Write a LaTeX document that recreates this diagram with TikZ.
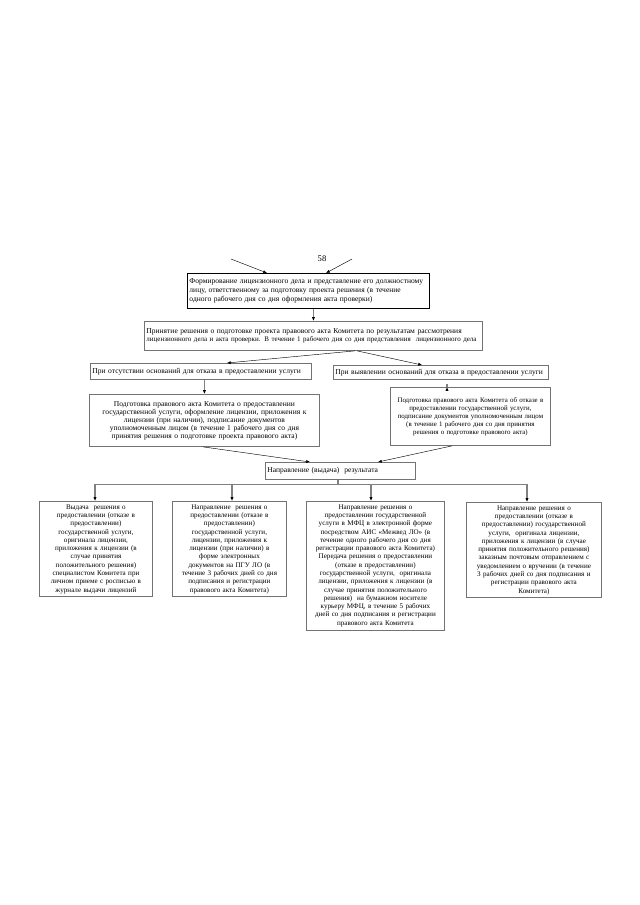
\documentclass[tikz,border=0pt]{standalone}
\usepackage{fontspec}
\setmainfont{Liberation Serif}
\usetikzlibrary{calc,arrows.meta}

\tikzset{
  blok/.style={draw=black!55, line width=0.8pt, anchor=north west, inner sep=1.5pt,
    font=\fontsize{7}{7.4}\selectfont},
  niz/.style={blok, inner ysep=3pt, font=\fontsize{6.6}{7.7}\selectfont},
  sz/.style 2 args={minimum width=#1*0.93pt, minimum height=#2*0.93pt,
    text width=#1*0.93pt-3.8pt},
  arr/.style={line width=0.4pt, -{Latex[length=3.5pt,width=2.8pt]}},
  garr/.style={draw=black!50, line width=1.1pt, -{Latex[length=3.5pt,width=3pt,color=black]}},
  gline/.style={draw=black!50, line width=1.1pt},
}

\begin{document}
\begin{tikzpicture}[x=0.93pt,y=-0.93pt]

	% page frame (A4)
	\useasboundingbox (0,0) rectangle (640,905);

	% page number and incoming arrows
	\node[font=\fontsize{8}{9}\selectfont] (pagenum) at (322,259) {58};
	\coordinate (in1) at (231,259);
	\coordinate (in2) at (352,259);

	% upper boxes
	\node[blok, sz={242}{35}, align=left, draw=black, font=\fontsize{7}{8.1}\selectfont] (form) at (187,273)
		{Формирование лицензионного дела и представление его должностному\\
		лицу, ответственному за подготовку проекта решения (в течение\\
		одного рабочего дня со дня оформления акта проверки)};
	\node[blok, sz={338}{29}, align=left] (decide) at (144,321)
		{Принятие решения о подготовке проекта правового акта Комитета по результатам рассмотрения\\
		{\fontsize{6.5}{7.4}\selectfont лицензионного дела и акта проверки. В течение 1 рабочего дня со дня представления~ лицензионного дела}};

	% two branches
	\node[blok, sz={221}{16}, align=left] (noRefuse) at (90,363)
		{При отсутствии оснований для отказа в предоставлении услуги};
	\node[blok, sz={215}{14}, align=left] (refuse) at (333,365)
		{При выявлении оснований для отказа в предоставлении услуги};
	\node[blok, sz={230}{52}, align=center] (actGrant) at (89,394)
		{Подготовка правового акта Комитета о предоставлении\\
		государственной услуги, оформление лицензии, приложения к\\
		лицензии (при наличии), подписание документов\\
		уполномоченным лицом (в течение 1 рабочего дня со дня\\
		принятия решения о подготовке проекта правового акта)};
	\node[blok, sz={160}{58}, align=center, font=\fontsize{6.4}{7.4}\selectfont] (actRefuse) at (390,387)
		{Подготовка правового акта Комитета об отказе в\\
		предоставлении государственной услуги,\\
		подписание документов уполномоченным лицом\\
		(в течение 1 рабочего дня со дня принятия\\
		решения о подготовке правового акта)};

	% result
	\node[blok, sz={150}{17}, align=left] (result) at (265,462)
		{Направление (выдача)~ результата};

	% ways of delivery
	\node[niz, sz={113}{10}, align=center] (issue) at (39,501)
		{Выдача~ решения о\\
		предоставлении (отказе в\\
		предоставлении)\\
		государственной услуги,\\
		оригинала лицензии,\\
		приложения к лицензии (в\\
		случае принятия\\
		положительного решения)\\
		специалистом Комитета при\\
		личном приеме с росписью в\\
		журнале выдачи лицензий};
	\node[niz, sz={114}{10}, align=center] (portal) at (172,501)
		{Направление~ решения о\\
		предоставлении (отказе в\\
		предоставлении)\\
		государственной услуги,\\
		лицензии, приложения к\\
		лицензии (при наличии) в\\
		форме электронных\\
		документов на ПГУ ЛО (в\\
		течение 3 рабочих дней со дня\\
		подписания и регистрации\\
		правового акта Комитета)};
	\node[niz, sz={138}{10}, align=center] (mfc) at (306,501)
		{Направление решения о\\
		предоставлении государственной\\
		услуги в МФЦ в электронной форме\\
		посредством АИС «Межвед ЛО» (в\\
		течение одного рабочего дня со дня\\
		регистрации правового акта Комитета)\\
		Передача решения о предоставлении\\
		(отказе в предоставлении)\\
		государственной услуги,~ оригинала\\
		лицензии, приложения к лицензии (в\\
		случае принятия положительного\\
		решения)~ на бумажном носителе\\
		курьеру МФЦ, в течение 5 рабочих\\
		дней со дня подписания и регистрации\\
		правового акта Комитета};
	\node[niz, sz={135}{10}, align=center] (post) at (466,502)
		{Направление решения о\\
		предоставлении (отказе в\\
		предоставлении) государственной\\
		услуги,~ оригинала лицензии,\\
		приложения к лицензии (в случае\\
		принятия положительного решения)\\
		заказным почтовым отправлением с\\
		уведомлением о вручении (в течение\\
		3 рабочих дней со дня подписания и\\
		регистрации правового акта\\
		Комитета)};

	% arrows into the first box
	\draw[arr] (in1) -- ($(form.north west)+(80,0)$);
	\draw[arr] (in2) -- ($(form.north west)+(139,0)$);

	% main flow
	\draw[garr] (decide.north |- form.south) -- (decide.north);
	\draw[arr] ($(decide.south west)+(211,0)$) -- ($(noRefuse.north west)+(137,0)$);
	\draw[arr] ($(decide.south west)+(213,0)$) -- ($(refuse.north west)+(89,0)$);
	\draw[garr] (actGrant.north |- noRefuse.south) -- (actGrant.north);
	\draw[garr] ($(actRefuse.north west)+(57,0)$ |- refuse.south) -- ($(actRefuse.north west)+(57,0)$);
	\draw[arr] ($(actGrant.south west)+(114,0)$) -- ($(result.north west)+(45,0)$);
	\draw[arr] ($(actRefuse.south west)+(62,0)$) -- ($(result.north west)+(113,0)$);

	% distribution bus
	\draw[gline] ($(result.south west)+(73,0)$) -- ++(0,5) coordinate (bus);
	\draw[garr] (bus) -| ($(issue.north west)+(56,0)$);
	\draw[garr] (bus) -| ($(portal.north west)+(60,0)$);
	\draw[garr] (bus) -| ($(mfc.north west)+(65,0)$);
	\draw[garr] (bus) -| ($(post.north west)+(61,0)$);

\end{tikzpicture}
\end{document}
